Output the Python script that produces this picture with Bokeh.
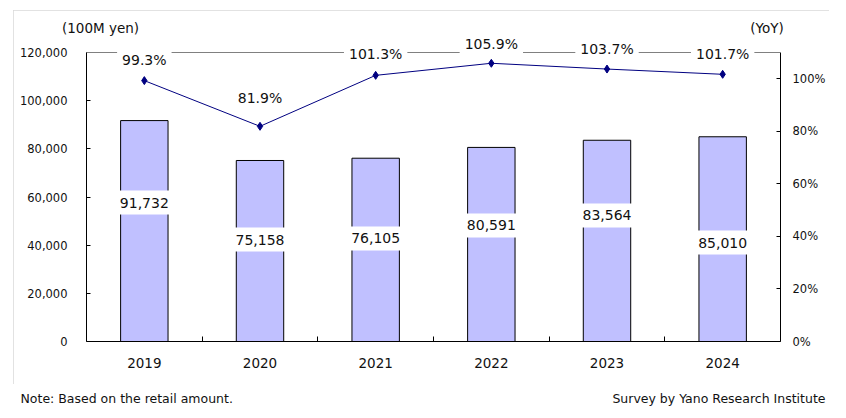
from bokeh.plotting import figure
from bokeh.layouts import column, row
from bokeh.models import (Range1d, LinearAxis, FixedTicker, NumeralTickFormatter,
                          PrintfTickFormatter, Label, Span, Spacer)
from bokeh.core.properties import value
from bokeh.embed import file_html
from bokeh.resources import INLINE

years = ["2019", "2020", "2021", "2022", "2023", "2024"]
sales = [91732, 75158, 76105, 80591, 83564, 85010]
yoy = [99.3, 81.9, 101.3, 105.9, 103.7, 101.7]
sales_labels = ["91,732", "75,158", "76,105", "80,591", "83,564", "85,010"]
yoy_labels = ["99.3%", "81.9%", "101.3%", "105.9%", "103.7%", "101.7%"]
# heights at which the data labels sit
sales_label_y = [57700, 42350, 42770, 48170, 52320, 41100]
yoy_label_y = [107.0, 92.5, 109.6, 113.4, 111.2, 109.6]
left_ticks = [0, 20000, 40000, 60000, 80000, 100000, 120000]
right_ticks = [0, 20, 40, 60, 80, 100]
left_max = 120000
right_max = 110
captions = ["(100M yen)", "(YoY)"]
notes = ["Note: Based on the retail amount.", "Survey by Yano Research Institute"]

FONT = "DejaVu Sans"
TXT = "#111111"

xs = [i + 0.5 for i in range(len(years))]
bounds = [i for i in range(1, len(years))]

# layout constants (pixels)
W, H = 816, 374
ML, MR, MT, MB = 73, 49, 25, 43
frame_h = H - MT - MB
axis_h = 289  # pixel height of the 0..max part of the value axes
ext = frame_h / axis_h

p = figure(width=W, height=H, x_range=Range1d(0, len(years)),
           y_range=Range1d(0, left_max * ext), output_backend="svg",
           toolbar_location=None, min_border_left=ML, min_border_right=MR,
           min_border_top=MT, min_border_bottom=MB)
p.background_fill_color = "white"
p.border_fill_color = "white"
p.outline_line_color = None
p.xgrid.visible = False
p.ygrid.visible = False
p.styles = {"outline": "1px solid #d9d9d9", "outline-offset": "-1px"}

p.extra_y_ranges = {"yoy": Range1d(0, right_max * ext)}

# top border of the plot area
p.add_layout(Span(location=left_max, dimension="width", line_color="#808080",
                  line_width=1))

# bars
p.vbar(x=xs, top=sales, width=0.41, fill_color="#C0C0FF", line_color="black",
       line_width=1)
# YoY line
p.line(x=xs, y=yoy, y_range_name="yoy", line_color="#000080", line_width=1)
p.scatter(x=xs, y=yoy, y_range_name="yoy", marker="diamond", size=8,
          fill_color="#000080", line_color="#000080")

# x axis
xa = p.xaxis[0]
xa.ticker = FixedTicker(ticks=xs, minor_ticks=bounds)
xa.major_label_overrides = {x: y for x, y in zip(xs, years)}
xa.major_tick_in = 0
xa.major_tick_out = 0
xa.minor_tick_in = 5
xa.minor_tick_out = 0
xa.minor_tick_line_color = "black"
xa.axis_line_color = "black"
xa.major_label_standoff = 16
xa.major_label_text_font = FONT
xa.major_label_text_font_size = "13.5px"
xa.major_label_text_color = TXT

# left axis
ya = p.yaxis[0]
ya.ticker = FixedTicker(ticks=left_ticks)
ya.formatter = NumeralTickFormatter(format="0,0")
ya.bounds = (0, left_max)
ya.major_tick_in = 4
ya.major_tick_out = 0
ya.minor_tick_line_color = None
ya.axis_line_color = "black"
ya.major_tick_line_color = "black"
ya.major_label_standoff = 19
ya.major_label_text_font = FONT
ya.major_label_text_font_size = "11.5px"
ya.major_label_text_color = TXT

# right axis
ra = LinearAxis(y_range_name="yoy", ticker=FixedTicker(ticks=right_ticks),
                formatter=PrintfTickFormatter(format="%d%%"), bounds=(0, right_max))
ra.major_tick_in = 4
ra.major_tick_out = 0
ra.minor_tick_line_color = None
ra.axis_line_color = "black"
ra.major_tick_line_color = "black"
ra.major_label_standoff = 12
ra.major_label_text_font = FONT
ra.major_label_text_font_size = "11.5px"
ra.major_label_text_color = TXT
p.add_layout(ra, "right")

# unit captions above the plot area (carried by a bare axis)
cap_x = [0.121, 5.883]
ca = LinearAxis(ticker=FixedTicker(ticks=cap_x),
                major_label_overrides={x: t for x, t in zip(cap_x, captions)})
ca.axis_line_color = None
ca.major_tick_line_color = None
ca.minor_tick_line_color = None
ca.major_tick_in = 0
ca.major_tick_out = 0
ca.minor_tick_in = 0
ca.minor_tick_out = 0
ca.major_label_standoff = 0
ca.major_label_text_font = FONT
ca.major_label_text_font_size = "13.5px"
ca.major_label_text_color = TXT
p.add_layout(ca, "above")

# data labels
for x, yv, t in zip(xs, sales_label_y, sales_labels):
    p.add_layout(Label(x=x, y=yv, text=t, text_align="center", text_baseline="middle",
                       background_fill_color="white", padding=dict(x=3, y=7),
                       text_font=FONT, text_font_size="14px", text_color=TXT))
for x, yv, t in zip(xs, yoy_label_y, yoy_labels):
    p.add_layout(Label(x=x, y=yv, y_range_name="yoy", text=t, text_align="center",
                       text_baseline="middle", background_fill_color="white",
                       padding=dict(x=5, y=4), text_font=FONT, text_font_size="14px",
                       text_color=TXT))

# notes under the chart box
NW, NH = 838, 30
q = figure(width=NW, height=NH, x_range=Range1d(0, NW), y_range=Range1d(0, NH),
           output_backend="svg", toolbar_location=None, min_border=0,
           x_axis_location=None, y_axis_location=None)
q.outline_line_color = None
q.xgrid.visible = False
q.ygrid.visible = False
q.background_fill_color = "white"
q.border_fill_color = "white"
q.text(x=[20], y=[16], text=[notes[0]], text_align="left", text_baseline="middle",
       text_font=value(FONT), text_font_size="12.5px", text_color=TXT)
q.text(x=[825], y=[16], text=[notes[1]], text_align="right", text_baseline="middle",
       text_font=value(FONT), text_font_size="12.5px", text_color=TXT)

root = column(Spacer(width=NW, height=10), row(Spacer(width=13, height=H), p), q)

open("out.html", "w").write(file_html(root, INLINE))
